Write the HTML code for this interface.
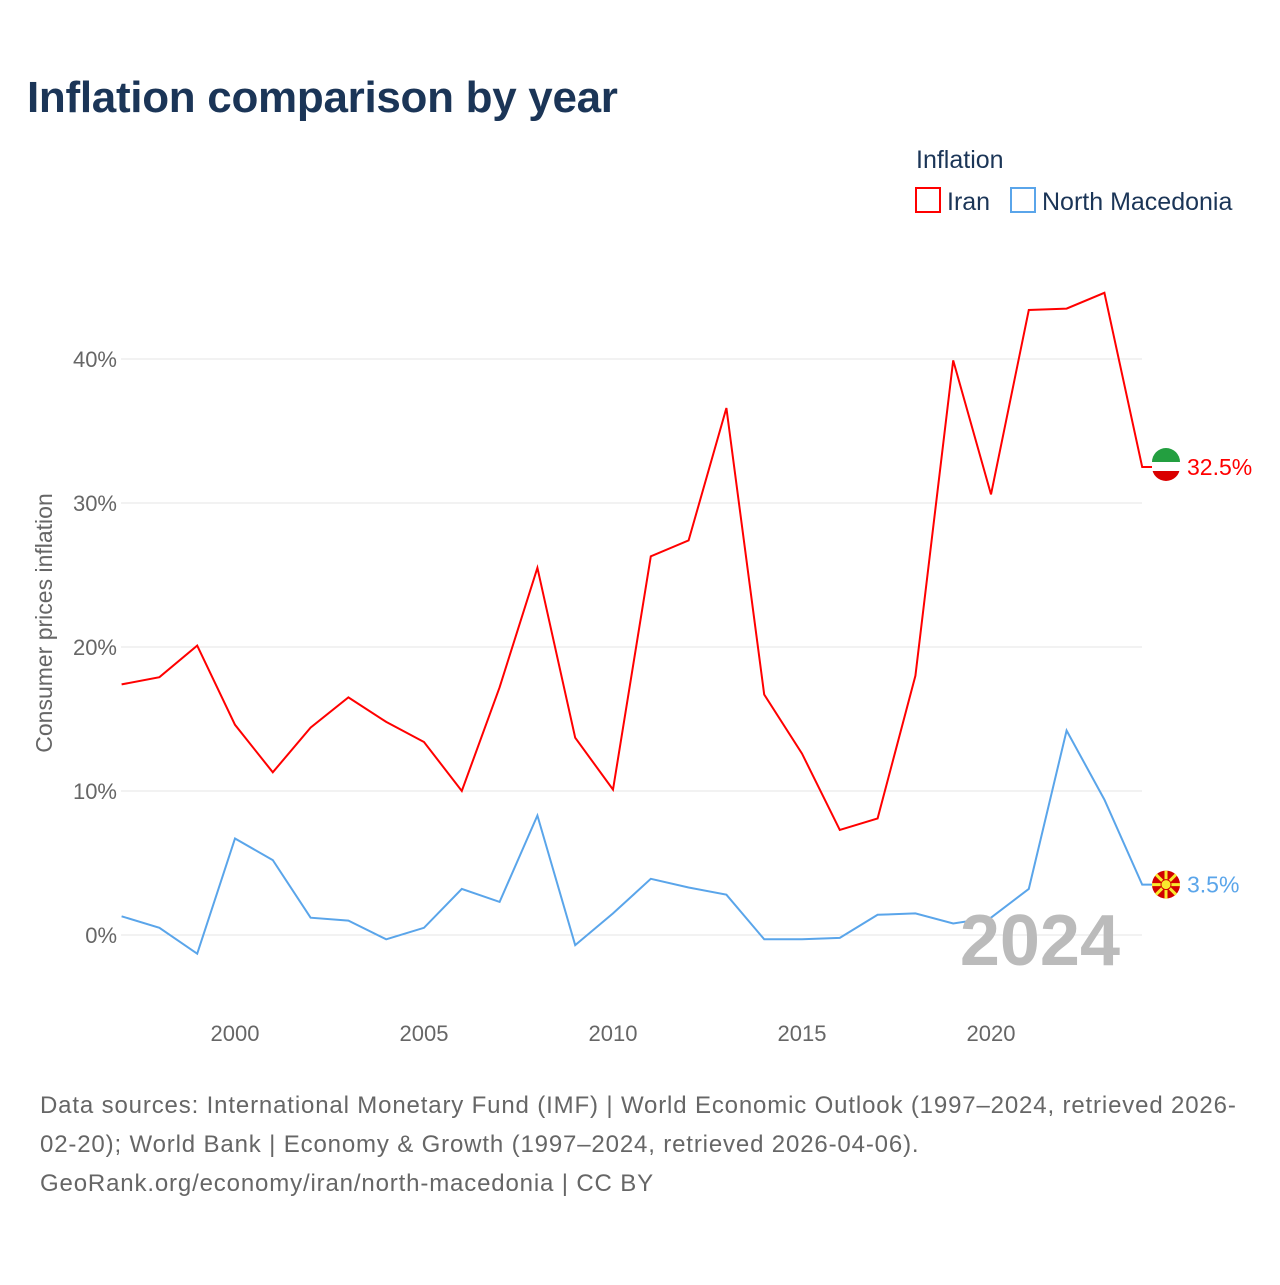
<!DOCTYPE html>
<html><head><meta charset="utf-8"><style>
body{margin:0;background:#fff;font-family:"Liberation Sans",sans-serif}
</style></head><body>
<svg width="1280" height="1280" xmlns="http://www.w3.org/2000/svg" id="svg">
<rect width="1280" height="1280" fill="#fff"/>
<text x="27" y="112" font-size="44" font-weight="bold" fill="#1b3557" letter-spacing="-0.3">Inflation comparison by year</text>
<text x="916" y="168" font-size="25" fill="#1b3557">Inflation</text>
<g><rect x="916" y="188" width="24" height="24" fill="none" stroke="#f00" stroke-width="2"/><text x="947" y="210" font-size="25" fill="#1b3557">Iran</text></g>
<g><rect x="1011" y="188" width="24" height="24" fill="none" stroke="#5aa5ea" stroke-width="2"/><text x="1042" y="210" font-size="25" fill="#1b3557">North Macedonia</text></g>
<text transform="translate(52,623) rotate(-90)" text-anchor="middle" font-size="23" fill="#666">Consumer prices inflation</text>
<g id="grid"></g><g id="marks"></g>
<text x="1120" y="965" text-anchor="end" font-size="72" font-weight="bold" fill="#bbb">2024</text>
<g font-size="24" fill="#666" letter-spacing="0.85">
<text x="40" y="1113">Data sources: International Monetary Fund (IMF) | World Economic Outlook (1997–2024, retrieved 2026-</text>
<text x="40" y="1152">02-20); World Bank | Economy &amp; Growth (1997–2024, retrieved 2026-04-06).</text>
<text x="40" y="1191">GeoRank.org/economy/iran/north-macedonia | CC BY</text>
</g>
</svg>
<script>
const years=[1997,1998,1999,2000,2001,2002,2003,2004,2005,2006,2007,2008,2009,2010,2011,2012,2013,2014,2015,2016,2017,2018,2019,2020,2021,2022,2023,2024];
const iran=[17.4,17.9,20.1,14.6,11.3,14.4,16.5,14.8,13.4,10.0,17.2,25.5,13.7,10.1,26.3,27.4,36.6,16.7,12.6,7.3,8.1,18.0,39.9,30.6,43.4,43.5,44.6,32.5];
const nmk=[1.3,0.5,-1.3,6.7,5.2,1.2,1.0,-0.3,0.5,3.2,2.3,8.3,-0.7,1.5,3.9,3.3,2.8,-0.3,-0.3,-0.2,1.4,1.5,0.8,1.2,3.2,14.2,9.4,3.5];
const yTicks=[0,10,20,30,40];
const xTicks=[2000,2005,2010,2015,2020];
const NS="http://www.w3.org/2000/svg";
const x=v=>235+(v-2000)*37.8;
const y=v=>935-v*14.4;
function mk(t,a,p){const e=document.createElementNS(NS,t);for(const k in a)e.setAttribute(k,a[k]);p.appendChild(e);return e;}
const grid=document.getElementById('grid'),marks=document.getElementById('marks');
yTicks.forEach(t=>{
 const l=mk('line',{x1:121,x2:1142,y1:y(t),y2:y(t),stroke:'#e6e6e6','stroke-width':1},grid);
 
 
 const tx=mk('text',{x:117,y:y(t)+8,'text-anchor':'end','font-size':22,fill:'#666'},grid);
 tx.textContent=t+'%';
 
 
});
xTicks.forEach(t=>{
 const tx=mk('text',{x:x(t),y:1041,'text-anchor':'middle','font-size':22,fill:'#666'},grid);
 tx.textContent=t;
 
 
});
function series(vals,color,name,flagColor){
 const d=vals.map((v,i)=>(i?'L':'M')+x(years[i]).toFixed(1)+','+y(v).toFixed(1)).join('')+'H1152';
 const p=mk('path',{d:d,fill:'none',stroke:color,'stroke-width':2},marks);
 
 
 const last=vals[vals.length-1];
 const c=mk('circle',{cx:1166,cy:y(last),r:14,fill:flagColor},marks);
 
 
 const t=mk('text',{x:1187,y:y(last)+8,'font-size':23,fill:color},marks);
 t.textContent=last+'%';
 
 
}
series(iran,'#f00','iran','#da0000');
series(nmk,'#5aa5ea','north-macedonia','#d20000');
const fi=mk('rect',{x:1152,y:y(32.5)-5,width:28,height:9,fill:'#fff'},marks);


const fg=mk('path',{d:`M1152,${y(32.5)-5} a14,14 0 0 1 28,0 z`,fill:'#239f40'},marks);


const cy3=y(3.5);
const rays=mk('path',{d:`M1152,${cy3}H1180M1166,${cy3-14}V${cy3+14}M1156,${cy3-10}L1176,${cy3+10}M1176,${cy3-10}L1156,${cy3+10}`,stroke:'#f8e92e','stroke-width':3},marks);


const fs=mk('circle',{cx:1166,cy:cy3,r:5,fill:'#f8e92e',stroke:'#d20000','stroke-width':1},marks);


</script>
</body></html>
